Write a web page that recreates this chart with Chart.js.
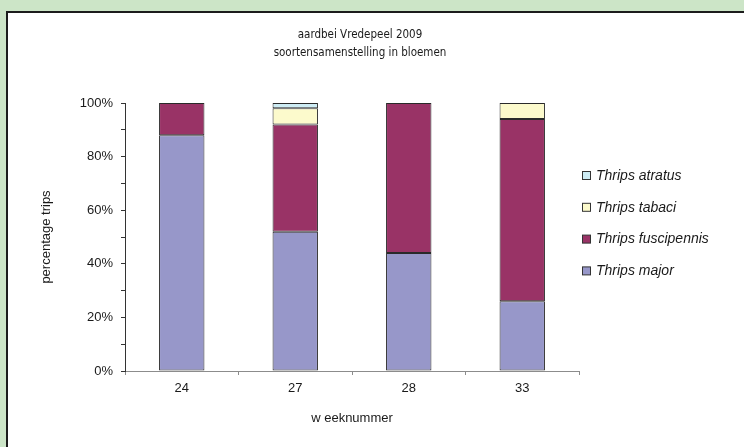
<!DOCTYPE html>
<html>
<head>
<meta charset="utf-8">
<script src="https://cdn.jsdelivr.net/npm/chart.js@4/dist/chart.umd.min.js"></script>
<style>
  html, body { margin: 0; padding: 0; }
  body { width: 744px; height: 447px; background: #cce5c7; position: relative; overflow: hidden; }
  #panel { position: absolute; left: 6px; top: 11px; width: 760px; height: 460px;
           background: #ffffff; border-left: 2px solid #1c1c1c; border-top: 2px solid #1c1c1c; }
  #wrap { position: absolute; left: 0; top: 0; width: 744px; height: 447px; }
</style>
</head>
<body>
<div id="panel"></div>
<div id="wrap"><canvas id="c" width="744" height="447"></canvas></div>
<script>
// week numbers on the x axis
const weeks = ['24', '27', '28', '33'];

// share of each thrips species per week (percent of trips caught in flowers)
const thripsMajor       = [88, 52, 44, 26];
const thripsFuscipennis = [12, 40, 56, 68];
const thripsTabaci      = [0, 6, 0, 6];
const thripsAtratus     = [0, 2, 0, 0];

const seriesNames = ['Thrips major', 'Thrips fuscipennis', 'Thrips tabaci', 'Thrips atratus'];
const seriesColors = ['#9797c9', '#993366', '#fcfacc', '#cdecf4'];

const titleLines = ['aardbei Vredepeel 2009', 'soortensamenstelling in bloemen'];
const xTitle = 'w eeknummer';
const yTitle = 'percentage trips';

const FONT = "'Liberation Sans', Arial, sans-serif";
const NARROW = "'DejaVu Sans Condensed', 'Liberation Sans', sans-serif";

// Legend drawn in the space reserved on the right, top entry = last series
const sideLegend = {
  id: 'sideLegend',
  afterDraw(chart, args, opts) {
    const ctx = chart.ctx;
    const ds = chart.data.datasets.slice().reverse();
    const x0 = chart.chartArea.right + opts.offsetX;
    ctx.save();
    ctx.font = 'italic 14px ' + FONT;
    ctx.textBaseline = 'middle';
    ctx.textAlign = 'left';
    ds.forEach((d, i) => {
      const cy = chart.chartArea.top + opts.firstY + i * opts.spacing;
      ctx.fillStyle = d.backgroundColor;
      ctx.fillRect(x0 + 0.5, cy - 3.5, 8, 8);
      ctx.strokeStyle = '#333333';
      ctx.lineWidth = 1;
      ctx.strokeRect(x0 + 0.5, cy - 3.5, 8, 8);
      ctx.fillStyle = '#1a1a1a';
      ctx.fillText(d.label, x0 + 14, cy + 1);
    });
    ctx.restore();
  }
};

const seriesData = [thripsMajor, thripsFuscipennis, thripsTabaci, thripsAtratus];

new Chart(document.getElementById('c'), {
  type: 'bar',
  data: {
    labels: weeks,
    datasets: seriesData.map((vals, i) => ({
      label: seriesNames[i],
      data: vals,
      backgroundColor: seriesColors[i],
      borderColor: '#2a2a2a',
      borderWidth: 1,
      borderSkipped: false,
      categoryPercentage: 1.0,
      barPercentage: 0.4
    }))
  },
  options: {
    responsive: false,
    animation: false,
    devicePixelRatio: 1,
    layout: { padding: { left: 0, right: 24, top: 0, bottom: 0 } },
    plugins: {
      legend: { display: false },
      tooltip: { enabled: false },
      title: {
        display: true,
        text: titleLines,
        color: '#1a1a1a',
        font: { family: NARROW, size: 11.5, weight: 'normal', lineHeight: '18px' },
        padding: { top: 26, bottom: 41 }
      },
      sideLegend: { offsetX: 3, firstY: 72, spacing: 31.8 }
    },
    scales: {
      x: {
        stacked: true,
        offset: true,
        grid: { display: true, drawOnChartArea: false, drawTicks: true, tickLength: 4,
                offset: true, color: '#8c8c8c' },
        border: { display: true, color: '#8c8c8c', width: 1 },
        ticks: { color: '#1a1a1a', padding: 6, font: { family: FONT, size: 13 } },
        title: { display: true, text: xTitle, color: '#1a1a1a',
                 font: { family: FONT, size: 13 }, padding: { top: 0, bottom: 21 } },
        afterFit(scale) { scale.height = 76; }
      },
      y: {
        stacked: true,
        min: 0,
        max: 100,
        grid: { display: true, drawOnChartArea: false, drawTicks: true, tickLength: 4, color: '#333333' },
        border: { display: true, color: '#333333', width: 1 },
        ticks: {
          stepSize: 10,
          autoSkip: false,
          padding: 8,
          color: '#1a1a1a',
          font: { family: FONT, size: 13 },
          callback: (v) => (v % 20 === 0 ? v + '%' : '')
        },
        title: { display: true, text: yTitle, color: '#1a1a1a',
                 font: { family: FONT, size: 13 }, padding: { top: 39, bottom: 0 } },
        afterFit(scale) { scale.width = 125; }
      },
      side: {
        type: 'linear',
        position: 'right',
        display: true,
        grid: { display: false },
        border: { display: false },
        ticks: { display: false },
        afterFit(scale) { scale.width = 141; }
      }
    }
  },
  plugins: [sideLegend]
});
</script>
</body>
</html>
